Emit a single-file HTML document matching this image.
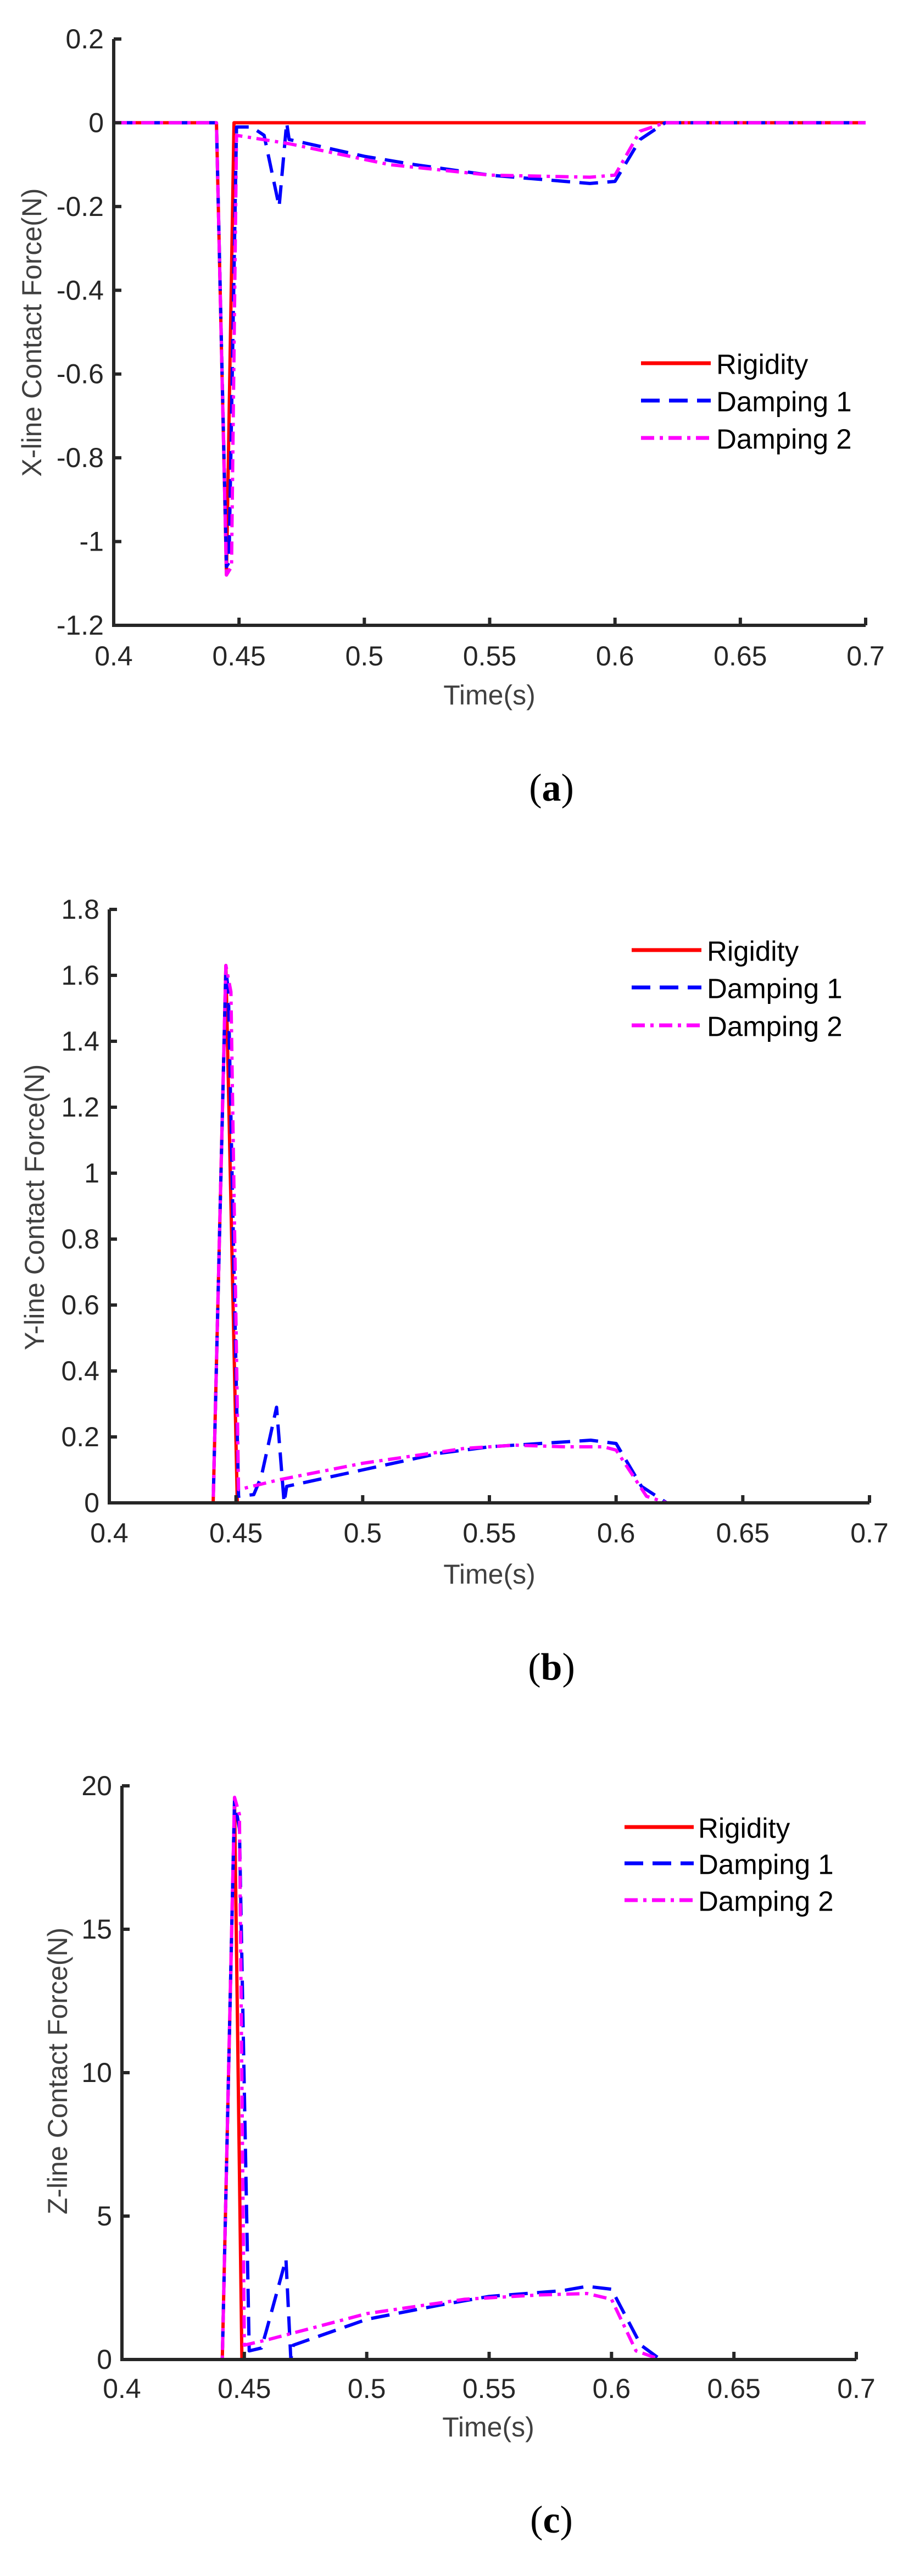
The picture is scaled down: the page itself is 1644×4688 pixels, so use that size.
<!DOCTYPE html>
<html><head><meta charset="utf-8">
<style>
html,body{margin:0;padding:0;background:#fff;}
svg{display:block;}
</style></head>
<body>
<svg id="s" width="1644" height="4688" xmlns="http://www.w3.org/2000/svg" font-family="Liberation Sans, Arial, sans-serif">
<rect width="1644" height="4688" fill="#fff"/>
<text x="58" y="605" transform="rotate(-90 58 605)" text-anchor="middle" dominant-baseline="central" font-size="50" fill="#404040">X-line Contact Force(N)</text>
<text x="891" y="1265" text-anchor="middle" dominant-baseline="central" font-size="50" fill="#404040">Time(s)</text>
<text x="1004" y="1434" text-anchor="middle" dominant-baseline="central" font-family="Liberation Serif, serif" font-size="70">(<tspan font-weight="bold">a</tspan>)</text>

<text x="63" y="2197" transform="rotate(-90 63 2197)" text-anchor="middle" dominant-baseline="central" font-size="50" fill="#404040">Y-line Contact Force(N)</text>
<text x="891" y="2865" text-anchor="middle" dominant-baseline="central" font-size="50" fill="#404040">Time(s)</text>
<text x="1004" y="3034" text-anchor="middle" dominant-baseline="central" font-family="Liberation Serif, serif" font-size="70">(<tspan font-weight="bold">b</tspan>)</text>

<text x="105" y="3769" transform="rotate(-90 105 3769)" text-anchor="middle" dominant-baseline="central" font-size="50" fill="#404040">Z-line Contact Force(N)</text>
<text x="889" y="4417" text-anchor="middle" dominant-baseline="central" font-size="50" fill="#404040">Time(s)</text>
<text x="1004" y="4586" text-anchor="middle" dominant-baseline="central" font-family="Liberation Serif, serif" font-size="70">(<tspan font-weight="bold">c</tspan>)</text>
</svg>
<script>
var NS="http://www.w3.org/2000/svg",S=document.getElementById('s');
function el(t,a,txt){var e=document.createElementNS(NS,t);for(var k in a)e.setAttribute(k,a[k]);if(txt!=null)e.textContent=txt;S.appendChild(e);return e;}
function panel(P){
 var X=function(t){return P.x0+(t-0.4)/0.3*(P.x1-P.x0);};
 var Y=function(v){return P.yb+(v-P.ymin)/(P.ymax-P.ymin)*(P.yt-P.yb);};
 // series
 var st=[['#ff0000','none',P.red],['#0000ff','34 17',P.blue],['#ff00ff','24 10 6 10',P.mag]];
 [st[0],st[1],st[2]].forEach(function(s){
   var d=s[2].map(function(p,i){return (i?'L':'M')+X(p[0]).toFixed(1)+' '+Y(p[1]).toFixed(1);}).join(' ');
   var a={d:d,fill:'none',stroke:s[0],'stroke-width':6,'stroke-linejoin':'round'};
   if(s[1]!='none')a['stroke-dasharray']=s[1];
   el('path',a);
 });
 // axes
 el('path',{d:'M'+P.x0+' '+P.yt+' L'+P.x0+' '+P.yb+' L'+P.x1+' '+P.yb,fill:'none',stroke:'#262626','stroke-width':6});
 for(var i=0;i<=6;i++){var tx=X(0.4+0.05*i);
   el('line',{x1:tx,y1:P.yb,x2:tx,y2:P.yb-14,stroke:'#262626','stroke-width':6});
   el('text',{x:tx,y:P.tly,'text-anchor':'middle','dominant-baseline':'central','font-size':50,fill:'#262626'},['0.4','0.45','0.5','0.55','0.6','0.65','0.7'][i]);}
 P.yt_ticks.forEach(function(v){var ty=Y(v[0]);
   el('line',{x1:P.x0,y1:ty,x2:P.x0+14,y2:ty,stroke:'#262626','stroke-width':6});
   el('text',{x:P.x0-18,y:ty,'text-anchor':'end','dominant-baseline':'central','font-size':50,fill:'#262626'},v[1]);});
 // legend
 var L=P.leg,names=['Rigidity','Damping 1','Damping 2'];
 for(var j=0;j<3;j++){var a={x1:L.lx0,x2:L.lx1,y1:L.ys[j],y2:L.ys[j],stroke:st[j][0],'stroke-width':7};
   if(j==1)a['stroke-dasharray']='34 17';if(j==2)a['stroke-dasharray']='24 10 6 10';
   el('line',a);
   el('text',{x:L.tx,y:L.ys[j]+2,'dominant-baseline':'central','font-size':51,fill:'#000'},names[j]);}
}
panel({x0:207,x1:1576,yt:71,yb:1138,ymin:-1.2,ymax:0.2,tly:1194,
 yt_ticks:[[0.2,'0.2'],[0,'0'],[-0.2,'-0.2'],[-0.4,'-0.4'],[-0.6,'-0.6'],[-0.8,'-0.8'],[-1,'-1'],[-1.2,'-1.2']],
 leg:{lx0:1167,lx1:1294,tx:1304,ys:[661,729,797]},
 red:[[0.4,0],[0.441,0],[0.445,-1.08],[0.448,0],[0.7,0]],
 blue:[[0.4,0],[0.441,0],[0.445,-1.06],[0.446,-1.05],[0.449,-0.01],[0.455,-0.01],[0.46,-0.03],[0.466,-0.2],[0.469,0],[0.47,-0.04],[0.5,-0.08],[0.52,-0.1],[0.55,-0.125],[0.58,-0.14],[0.59,-0.145],[0.6,-0.14],[0.61,-0.04],[0.62,0],[0.7,0]],
 mag:[[0.4,0],[0.441,0],[0.445,-1.08],[0.447,-1.06],[0.449,-0.03],[0.47,-0.05],[0.51,-0.1],[0.55,-0.125],[0.59,-0.13],[0.6,-0.125],[0.61,-0.02],[0.62,0],[0.7,0]]});
panel({x0:199,x1:1583,yt:1655,yb:2735,ymin:0,ymax:1.8,tly:2790,
 yt_ticks:[[0,'0'],[0.2,'0.2'],[0.4,'0.4'],[0.6,'0.6'],[0.8,'0.8'],[1,'1'],[1.2,'1.2'],[1.4,'1.4'],[1.6,'1.6'],[1.8,'1.8']],
 leg:{lx0:1150,lx1:1277,tx:1287,ys:[1729,1797,1866]},
 red:[[0.4,0],[0.441,0],[0.446,1.63],[0.4505,0],[0.7,0]],
 blue:[[0.4,0],[0.441,0],[0.446,1.62],[0.447,1.55],[0.451,0.02],[0.457,0.025],[0.46,0.08],[0.466,0.29],[0.469,0],[0.47,0.05],[0.5,0.1],[0.53,0.15],[0.55,0.17],[0.57,0.18],[0.59,0.19],[0.6,0.18],[0.61,0.05],[0.62,0],[0.7,0]],
 mag:[[0.4,0],[0.441,0],[0.446,1.63],[0.448,1.55],[0.451,0.04],[0.467,0.07],[0.5,0.12],[0.54,0.165],[0.56,0.175],[0.58,0.17],[0.595,0.17],[0.6,0.16],[0.612,0.02],[0.62,0],[0.7,0]]});
panel({x0:222,x1:1559,yt:3250,yb:4294,ymin:0,ymax:20,tly:4347,
 yt_ticks:[[0,'0'],[5,'5'],[10,'10'],[15,'15'],[20,'20']],
 leg:{lx0:1137,lx1:1263,tx:1271,ys:[3325,3391,3458]},
 red:[[0.4,0],[0.441,0],[0.446,19.5],[0.449,0],[0.7,0]],
 blue:[[0.4,0],[0.441,0],[0.446,19.5],[0.448,18.5],[0.452,0.3],[0.457,0.4],[0.459,1],[0.467,3.5],[0.469,0],[0.47,0.5],[0.5,1.4],[0.53,1.9],[0.55,2.2],[0.58,2.4],[0.59,2.55],[0.6,2.45],[0.612,0.5],[0.62,0],[0.7,0]],
 mag:[[0.4,0],[0.441,0],[0.446,19.6],[0.448,19],[0.45,0.5],[0.46,0.7],[0.5,1.6],[0.54,2.1],[0.57,2.25],[0.59,2.3],[0.6,2.1],[0.61,0.3],[0.62,0],[0.7,0]]});
</script>
</body></html>
